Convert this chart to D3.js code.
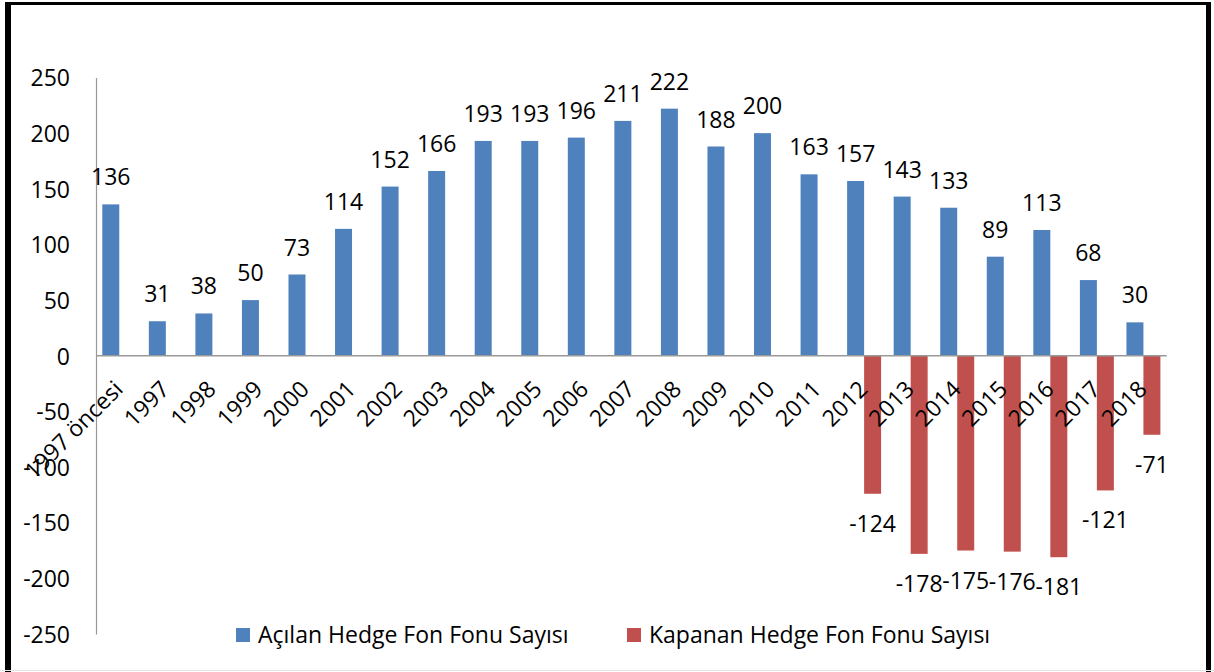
<!DOCTYPE html>
<html>
<head>
<meta charset="utf-8">
<script src="https://cdn.jsdelivr.net/npm/d3@7"></script>
<style>
  body { margin: 0; background: #fff; }
  text { font-family: "Open Sans", "Noto Sans", sans-serif; fill: #000; }
</style>
</head>
<body>
<div id="chart"></div>
<script>
const categories = ['1997 öncesi', '1997', '1998', '1999', '2000', '2001', '2002', '2003', '2004', '2005', '2006', '2007',
  '2008', '2009', '2010', '2011', '2012', '2013', '2014', '2015', '2016', '2017', '2018']
const acilan = [136, 31, 38, 50, 73, 114, 152, 166, 193, 193, 196, 211, 222, 188, 200, 163, 157, 143, 133, 89, 113, 68, 30]
const kapanan = [null, null, null, null, null, null, null, null, null, null, null, null, null, null, null, null,
  -124, -178, -175, -176, -181, -121, -71]
const yTicks = [250, 200, 150, 100, 50, 0, -50, -100, -150, -200, -250]
const seriesNames = ['Açılan Hedge Fon Fonu Sayısı', 'Kapanan Hedge Fon Fonu Sayısı']
const colors = ['#4F81BD', '#C0504D']

const W = 1214, H = 672
const fs = '23px'

const svg = d3.select('#chart').append('svg')
    .attr('width', W)
    .attr('height', H)

const x = d3.scaleBand()
    .domain(categories)
    .range([96, 1166.7])

const xs = d3.scaleBand()
    .domain([0, 1])
    .range([0, x.bandwidth()])
    .paddingOuter(0.37)

const y = d3.scaleLinear()
    .domain([-250, 250])
    .range([634, 77.5])

// y axis
const yAxis = svg.append('g')
    .attr('transform', 'translate(96,0)')
    .call(d3.axisLeft(y).tickValues(yTicks).tickSize(0).tickPadding(26).tickFormat(d => String(d)))
yAxis.select('.domain').attr('stroke', '#999').attr('stroke-width', 1.2)
yAxis.selectAll('text')
    .style('font-family', '"Open Sans", sans-serif')
    .style('font-size', fs)
    .attr('fill', '#000')
    .attr('dy', '0.36em')

// bars
const rows = categories.map((c, i) => ({ c, a: acilan[i], k: kapanan[i] }))

svg.selectAll('.bar-a')
    .data(rows)
    .enter().append('rect')
    .attr('x', d => x(d.c) + xs(0))
    .attr('y', d => y(d.a))
    .attr('width', xs.bandwidth())
    .attr('height', d => y(0) - y(d.a))
    .attr('fill', colors[0])

svg.selectAll('.bar-k')
    .data(rows.filter(d => d.k !== null))
    .enter().append('rect')
    .attr('x', d => x(d.c) + xs(1))
    .attr('y', y(0))
    .attr('width', xs.bandwidth())
    .attr('height', d => y(d.k) - y(0))
    .attr('fill', colors[1])

// zero line
svg.append('line')
    .attr('x1', x.range()[0]).attr('x2', x.range()[1])
    .attr('y1', y(0)).attr('y2', y(0))
    .attr('stroke', '#999')
    .attr('stroke-width', 1.5)

// data labels
svg.selectAll('.lab-a')
    .data(rows)
    .enter().append('text')
    .attr('x', d => x(d.c) + xs(0) + xs.bandwidth() / 2)
    .attr('y', d => y(d.a) - 19)
    .attr('text-anchor', 'middle')
    .style('font-size', fs)
    .text(d => d.a)

svg.selectAll('.lab-k')
    .data(rows.filter(d => d.k !== null))
    .enter().append('text')
    .attr('x', d => x(d.c) + xs(1) + xs.bandwidth() / 2)
    .attr('y', d => y(d.k) + 38)
    .attr('text-anchor', 'middle')
    .style('font-size', fs)
    .text(d => d.k)

// category labels
svg.selectAll('.cat')
    .data(categories)
    .enter().append('text')
    .attr('transform', d => 'translate(' + (x(d) + x.bandwidth() / 2 + 5) + ',' + (y(0) + 35) + ') rotate(-45)')
    .attr('text-anchor', 'end')
    .style('font-size', fs)
    .text(d => d)

// legend
const legend = svg.append('g')
seriesNames.forEach((name, i) => {
    const lx = i === 0 ? 236 : 627
    legend.append('rect')
        .attr('x', lx).attr('y', 628)
        .attr('width', 14).attr('height', 14)
        .attr('fill', colors[i])
    legend.append('text')
        .attr('x', lx + 22).attr('y', 643)
        .style('font-size', fs)
        .text(name)
})

// frame
svg.append('line').attr('x1', 8).attr('x2', 8).attr('y1', 2).attr('y2', H)
    .attr('stroke', '#000').attr('stroke-width', 6)
svg.append('line').attr('x1', 5).attr('x2', 1211).attr('y1', 3.5).attr('y2', 3.5)
    .attr('stroke', '#000').attr('stroke-width', 3)
svg.append('line').attr('x1', 1208.5).attr('x2', 1208.5).attr('y1', 2).attr('y2', H)
    .attr('stroke', '#000').attr('stroke-width', 5)
svg.append('line').attr('x1', 0).attr('x2', W).attr('y1', 670.5).attr('y2', 670.5)
    .attr('stroke', '#e4e4e4').attr('stroke-width', 1)
</script>
</body>
</html>
